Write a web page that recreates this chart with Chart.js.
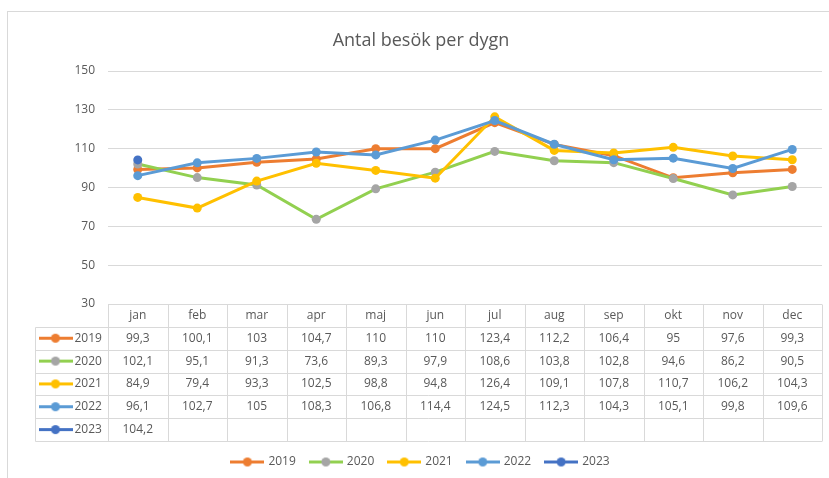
<!DOCTYPE html>
<html><head><meta charset="utf-8">
<script src="https://cdn.jsdelivr.net/npm/chart.js@4/dist/chart.umd.min.js"></script>
<style>html,body{margin:0;padding:0;background:#fff;}#c{display:block;}</style>
</head><body>
<canvas id="c" width="829" height="478"></canvas>
<script>
const months = ['jan','feb','mar','apr','maj','jun','jul','aug','sep','okt','nov','dec'];
const years = ['2019','2020','2021','2022','2023'];
const v2019 = [99.3,100.1,103,104.7,110,110,123.4,112.2,106.4,95,97.6,99.3];
const v2020 = [102.1,95.1,91.3,73.6,89.3,97.9,108.6,103.8,102.8,94.6,86.2,90.5];
const v2021 = [84.9,79.4,93.3,102.5,98.8,94.8,126.4,109.1,107.8,110.7,106.2,104.3];
const v2022 = [96.1,102.7,105,108.3,106.8,114.4,124.5,112.3,104.3,105.1,99.8,109.6];
const v2023 = [104.2,null,null,null,null,null,null,null,null,null,null,null];
const seriesValues = [v2019,v2020,v2021,v2022,v2023];
const yMin = 30, yMax = 150, yStep = 20;
const chartTitle = 'Antal besök per dygn';

const lineColors = ['#ed7d31','#92d050','#ffc000','#5b9bd5','#4472c4'];
const markerColors = ['#ed7d31','#a5a5a5','#ffc000','#5b9bd5','#4472c4'];
const FONT = "'Open Sans', 'Liberation Sans', sans-serif";
const TXT = '#595959';
const GRID = '#d9d9d9';
Chart.defaults.font.family = FONT;

function swatch(i){
  const c = document.createElement('canvas');
  c.width = 34; c.height = 11;
  const g = c.getContext('2d');
  g.strokeStyle = lineColors[i]; g.lineWidth = 3; g.lineCap='butt';
  g.beginPath(); g.moveTo(0,5.5); g.lineTo(34,5.5); g.stroke();
  g.fillStyle = markerColors[i];
  g.beginPath(); g.arc(17,5.5,4.5,0,Math.PI*2); g.fill();
  return c;
}
const swatches = years.map((y,i)=>swatch(i));
const fmt = v => v==null ? '' : String(v).replace('.',',');

const tablePlugin = {
  id:'tablePlugin',
  beforeDraw(chart){
    const ctx = chart.ctx;
    ctx.save();
    ctx.fillStyle='#fff'; ctx.fillRect(0,0,chart.width,chart.height);
    ctx.strokeStyle=GRID; ctx.lineWidth=1;
    ctx.strokeRect(7.5,11.5,1000,1000);
    ctx.restore();
  },
  afterDraw(chart){
    const ctx = chart.ctx, xs = chart.scales.x;
    const left = xs.left, right = xs.right, top = xs.top, bottom = xs.bottom;
    const n = months.length, rows = years.length + 1;
    const rh = (bottom - top)/rows;
    const keyLeft = 35.5;
    ctx.save();
    ctx.strokeStyle = GRID; ctx.lineWidth = 1;
    ctx.beginPath();
    for (let r=0;r<=rows;r++){
      const y = Math.round(top + r*rh)+0.5;
      ctx.moveTo(r<=0?left:keyLeft, y); ctx.lineTo(right, y);
    }
    ctx.moveTo(keyLeft, Math.round(top+rh)+0.5); ctx.lineTo(keyLeft, Math.round(bottom)+0.5);
    for (let c=0;c<=n;c++){
      const x = Math.round(left + c*(right-left)/n)+0.5;
      ctx.moveTo(x, Math.round(top)+0.5); ctx.lineTo(x, Math.round(bottom)+0.5);
    }
    ctx.stroke();
    ctx.fillStyle = TXT; ctx.font = '12px ' + FONT;
    ctx.textAlign='center'; ctx.textBaseline='middle';
    months.forEach((m,i)=>{
      ctx.fillText(m, xs.getPixelForValue(i), top + rh/2);
    });
    seriesValues.forEach((arr,r)=>{
      const yc = top + (r+1)*rh + rh/2;
      arr.forEach((v,i)=>{ if(v!=null) ctx.fillText(fmt(v), xs.getPixelForValue(i), yc); });
      ctx.drawImage(swatches[r], keyLeft+3, yc-5.5);
      ctx.textAlign='left';
      ctx.fillText(years[r], keyLeft+39, yc);
      ctx.textAlign='center';
    });
    ctx.restore();
  }
};

new Chart(document.getElementById('c'), {
  type:'line',
  data:{
    labels: months,
    datasets: years.map((y,i)=>({
      label: y,
      data: seriesValues[i],
      borderColor: lineColors[i],
      backgroundColor: markerColors[i],
      pointBackgroundColor: markerColors[i],
      pointBorderColor: markerColors[i],
      borderWidth: 3,
      pointRadius: 4.5,
      pointBorderWidth: 0,
      tension: 0,
      fill: false,
      order: years.length - 1 - i
    }))
  },
  options:{
    responsive:false, animation:false,
    layout:{padding:{left:20,right:7,top:0,bottom:0}},
    plugins:{
      title:{display:true,text:chartTitle,color:TXT,font:{size:18,weight:'normal'},padding:{top:30,bottom:19.4}},
      legend:{
        position:'bottom',
        labels:{
          color:TXT, font:{size:12}, usePointStyle:true, pointStyleWidth:30, padding:15,
          generateLabels:(chart)=>years.map((y,i)=>({
            text:y, datasetIndex:i, pointStyle:swatches[i], fillStyle:lineColors[i],
            strokeStyle:lineColors[i], lineWidth:0, fontColor:TXT, hidden:false
          }))
        }
      },
      tooltip:{enabled:false}
    },
    scales:{
      x:{
        type:'category', offset:true,
        grid:{display:false}, border:{display:false},
        ticks:{display:false},
        afterFit:(s)=>{ s.height = 137; }
      },
      y:{
        min:yMin, max:yMax,
        ticks:{stepSize:yStep, color:TXT, font:{size:12}, padding:13},
        grid:{color:GRID, drawTicks:false},
        border:{display:false},
        afterFit:(s)=>{ s.width = 88; }
      }
    }
  },
  plugins:[tablePlugin]
});
</script>
</body></html>
